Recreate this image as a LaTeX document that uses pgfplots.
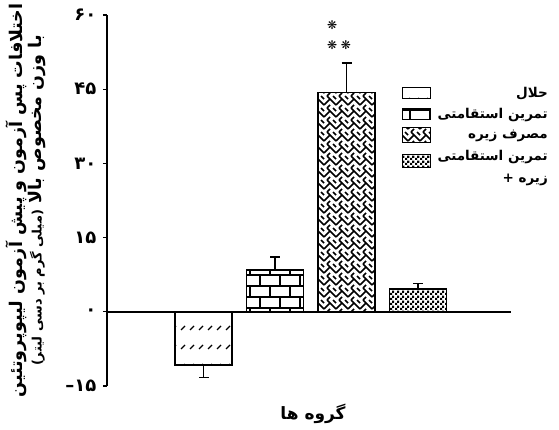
\documentclass[border=0pt]{standalone}
\usepackage{fontspec}
\setmainfont{DejaVu Sans}
\newfontfamily\arabicfont[Script=Arabic]{DejaVu Sans}
\TeXXeTstate=1
\usepackage{pgfplots}
\pgfplotsset{compat=1.18}
\usetikzlibrary{patterns}

\pgfdeclarepatternformonly{dashdiag}{\pgfpoint{-1pt}{-1pt}}{\pgfpoint{10pt}{20pt}}{\pgfpoint{9pt}{19pt}}{
 \pgfsetlinewidth{1.4pt}
 \pgfpathmoveto{\pgfpoint{1pt}{4pt}}\pgfpathlineto{\pgfpoint{5pt}{8pt}}\pgfusepath{stroke}}

\pgfdeclarepatternformonly{bigbricks}{\pgfpoint{-1pt}{-1pt}}{\pgfpoint{41pt}{23pt}}{\pgfpoint{40pt}{22pt}}{
 \pgfsetlinewidth{1.8pt}
 \pgfpathmoveto{\pgfpoint{0pt}{0pt}}\pgfpathlineto{\pgfpoint{40pt}{0pt}}
 \pgfpathmoveto{\pgfpoint{0pt}{11pt}}\pgfpathlineto{\pgfpoint{40pt}{11pt}}
 \pgfpathmoveto{\pgfpoint{10pt}{0pt}}\pgfpathlineto{\pgfpoint{10pt}{11pt}}
 \pgfpathmoveto{\pgfpoint{30pt}{0pt}}\pgfpathlineto{\pgfpoint{30pt}{11pt}}
 \pgfpathmoveto{\pgfpoint{0pt}{11pt}}\pgfpathlineto{\pgfpoint{0pt}{22pt}}
 \pgfpathmoveto{\pgfpoint{20pt}{11pt}}\pgfpathlineto{\pgfpoint{20pt}{22pt}}
 \pgfusepath{stroke}}

\pgfdeclarepatternformonly{herring}{\pgfpoint{-1pt}{-1pt}}{\pgfpoint{13pt}{13pt}}{\pgfpoint{12pt}{12pt}}{
 \pgfsetlinewidth{1.6pt}
 \pgfpathmoveto{\pgfpoint{0pt}{0pt}}\pgfpathlineto{\pgfpoint{6pt}{6pt}}\pgfpathlineto{\pgfpoint{12pt}{0pt}}
 \pgfpathmoveto{\pgfpoint{3pt}{9pt}}\pgfpathlineto{\pgfpoint{6pt}{12pt}}
 \pgfpathmoveto{\pgfpoint{9pt}{3pt}}\pgfpathlineto{\pgfpoint{3pt}{9pt}}
 \pgfpathmoveto{\pgfpoint{9pt}{9pt}}\pgfpathlineto{\pgfpoint{12pt}{6pt}}
 \pgfusepath{stroke}}

\pgfdeclarepatternformonly{finecheck}{\pgfpoint{0pt}{0pt}}{\pgfpoint{5pt}{5pt}}{\pgfpoint{5pt}{5pt}}{
 \pgfpathrectangle{\pgfpoint{0pt}{0pt}}{\pgfpoint{2.5pt}{2.5pt}}
 \pgfpathrectangle{\pgfpoint{2.5pt}{2.5pt}}{\pgfpoint{2.5pt}{2.5pt}}
 \pgfusepath{fill}}

\newcommand{\lf}{\fontsize{13.5}{16}\selectfont\arabicfont\bfseries}

\begin{document}
\begin{tikzpicture}
\path[use as bounding box] (-107pt,-43pt) rectangle ++(559pt,429pt);
\begin{axis}[
  at={(0pt,0pt)}, anchor=south west,
  scale only axis, width=404pt, height=371pt,
  xmin=-0.35, xmax=5.30, ymin=-15, ymax=60,
  clip=false,
  axis y line*=left, axis x line*=middle,
  axis line style={line width=1.5pt,-},
  xtick=\empty,
  ytick={-15,0,15,30,45,60},
  yticklabels={{{\bfseries\char"2013}{\arabicfont\bfseries ۱۵}},{\arabicfont\bfseries ۰},{\arabicfont\bfseries ۱۵},{\arabicfont\bfseries ۳۰},{\arabicfont\bfseries ۴۵},{\arabicfont\bfseries ۶۰}},
  yticklabel style={font=\fontsize{18}{20}\selectfont, xshift=-3pt},
  tick align=outside, major tick length=4pt, tick style={line width=1.2pt,black},
  ylabel={\fontsize{17.5}{25}\selectfont\arabicfont\bfseries \beginR اختلافات پس آزمون و پیش آزمون لیپوپروتئین\endR\\ \fontsize{17.5}{25}\selectfont\arabicfont\bfseries\beginR با وزن مخصوص بالا {\fontsize{13}{13}\selectfont (میلی گرم بر دسی لیتر)}\endR},
  ylabel style={align=center, anchor=center, at={(axis description cs:0,0.5)}, yshift=81pt},
  ybar, bar shift=0pt, bar width=0.8,
  legend style={draw=none, fill=none, at={(rel axis cs:1.0965,0.81)}, anchor=north east,
    inner sep=0pt, row sep=5pt, column sep=5pt},
  legend cell align=right,
]
\addplot[forget plot, draw=black, line width=1.6pt, pattern=dashdiag,
  error bars/.cd, y dir=minus, y explicit,
  error bar style={line width=1.6pt},
  error mark options={rotate=90, mark size=5pt, line width=1.6pt}]
  coordinates {(1,-10.7) +- (0,2.6)};
\addplot[forget plot, draw=black, line width=1.6pt, pattern=bigbricks,
  error bars/.cd, y dir=plus, y explicit,
  error bar style={line width=1.6pt},
  error mark options={rotate=90, mark size=5pt, line width=1.6pt}]
  coordinates {(2,8.5) +- (0,2.6)};
\addplot[forget plot, draw=black, line width=1.6pt, pattern=herring,
  error bars/.cd, y dir=plus, y explicit,
  error bar style={line width=1.6pt},
  error mark options={rotate=90, mark size=5pt, line width=1.6pt}]
  coordinates {(3,44.3) +- (0,6.0)};
\addplot[forget plot, draw=black, line width=1.6pt, pattern=finecheck,
  error bars/.cd, y dir=plus, y explicit,
  error bar style={line width=1.6pt},
  error mark options={rotate=90, mark size=5pt, line width=1.6pt}]
  coordinates {(4,4.65) +- (0,1.05)};

\addlegendimage{legend image code/.code={\fill[pattern=dashdiag] (0pt,-5pt) rectangle (28pt,6pt);}}
\addlegendentry{\lf\beginR حلال\endR\hspace{12pt}}
\addlegendimage{legend image code/.code={\draw[pattern=bigbricks, line width=1pt] (0pt,-5pt) rectangle (28pt,6pt);}}
\addlegendentry{\lf\beginR تمرین استقامتی\endR}
\addlegendimage{legend image code/.code={\fill[pattern=herring] (0pt,-7pt) rectangle (28pt,8pt);}}
\addlegendentry{\lf\beginR مصرف زیره\endR\hspace{5pt}}
\addlegendimage{legend image code/.code={\fill[pattern=finecheck] (0pt,-6pt) rectangle (28pt,7pt);}}
\addlegendentry{\lf\begin{tabular}{@{}r@{}}\beginR تمرین استقامتی\endR\\[6pt] {\bfseries +}\ \beginR زیره\endR\hspace{16pt}\end{tabular}}

\node[font=\fontsize{12}{12}\selectfont] at (axis cs:2.80,57.9) {❋};
\node[font=\fontsize{12}{12}\selectfont] at (axis cs:2.80,53.9) {❋};
\node[font=\fontsize{12}{12}\selectfont] at (axis cs:2.99,53.9) {❋};

\node[font=\fontsize{17}{20}\selectfont\arabicfont\bfseries] at (rel axis cs:0.51,-0.075) {\beginR گروه ها\endR};
\end{axis}
\end{tikzpicture}
\end{document}
